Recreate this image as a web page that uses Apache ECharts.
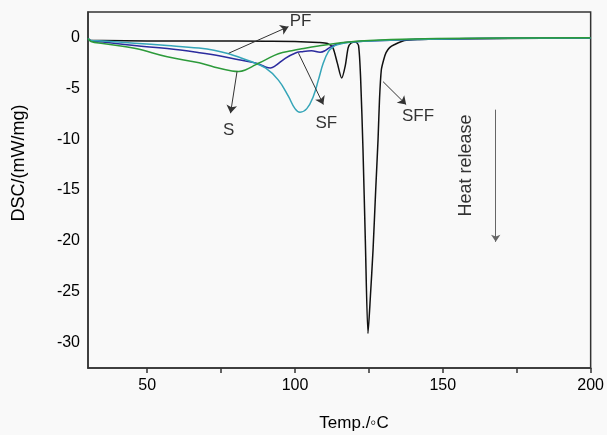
<!DOCTYPE html>
<html><head><meta charset="utf-8">
<script src="https://cdn.jsdelivr.net/npm/echarts@6/dist/echarts.min.js"></script>
<style>html,body{margin:0;padding:0;background:#f9f9f9}#c{width:607px;height:435px}</style>
</head><body><div id="c"></div>
<script>
// Temperature (°C) / DSC (mW/mg) pairs
const sffData = [[30,-0.1],[31,-0.3],[35,-0.3],[50,-0.35],[70,-0.35],[90,-0.38],[100,-0.4],[108,-0.5],[111,-0.6],[112.8,-1.0],[114.3,-2.5],[115.8,-4.0],[117.0,-2.8],[118.0,-1.0],[119,-0.55],[120.5,-0.45],[121.5,-0.8],[122.2,-4],[123,-11],[123.8,-20],[124.7,-29.1],[125.5,-25.5],[126.4,-20.9],[127.3,-15],[128.1,-10],[128.6,-6],[129.2,-3.2],[130,-2.2],[130.8,-1.5],[132,-1.0],[133.7,-0.7],[137,-0.3],[142,-0.2],[150,-0.15],[170,-0.1],[200,-0.05]];
const pfData = [[30,-0.1],[31,-0.3],[35,-0.35],[45.7,-0.57],[56.8,-0.8],[67.5,-1.05],[72.6,-1.25],[77.6,-1.6],[84.4,-2.3],[90,-3.0],[94.4,-4.2],[97.8,-5.8],[100,-7.0],[101.7,-7.35],[104,-7.0],[106.2,-5.8],[107.9,-4.2],[109.6,-2.5],[111.3,-1.4],[113,-0.9],[114.6,-0.7],[118,-0.5],[125,-0.35],[140,-0.2],[160,-0.1],[200,-0.05]];
const sfData = [[30,-0.1],[31,-0.35],[35,-0.45],[45.7,-0.8],[56.8,-1.1],[67.6,-1.5],[74.3,-1.8],[81,-2.2],[86.6,-2.5],[90,-2.9],[91.7,-3.0],[93.3,-2.8],[96.7,-2.05],[100,-1.55],[102.3,-1.4],[105.6,-1.3],[108.5,-1.45],[110.2,-1.3],[111.8,-0.97],[113.5,-0.74],[117,-0.5],[125,-0.35],[140,-0.2],[160,-0.1],[200,-0.05]];
const sData = [[30,-0.1],[31,-0.4],[35,-0.6],[45.7,-1.06],[56.8,-1.9],[67.6,-2.5],[72.6,-2.9],[78.7,-3.3],[81,-3.35],[83.2,-3.2],[86.6,-2.7],[90,-2.2],[94.4,-1.6],[98.9,-1.3],[103.4,-1.06],[107.9,-0.84],[112.4,-0.64],[118,-0.45],[125,-0.3],[140,-0.15],[160,-0.08],[200,-0.03]];

const xTicks = [50,75,100,125,150,175,200];
const xLabels = [50,100,150,200];
const yLabels = [0,-5,-10,-15,-20,-25,-30];

// annotation arrows: [from, to] in data coordinates
const arrows = [
  [[77.6,-1.55],[97.8,1.06]],
  [[80.4,-3.36],[78.2,-7.45]],
  [[101.2,-1.55],[109.6,-6.6]],
  [[129.8,-4.35],[137.6,-6.6]]
];
const heatArrow = [[167.9,-7.1],[167.9,-20.1]];
// annotation texts: [x, y, text]
const notes = [[101.9,1.6,'PF'],[77.6,-9.1,'S'],[110.6,-8.4,'SF'],[141.6,-7.8,'SFF']];
const sideNote = [[157.9,-12.6,'Heat release']];

const font = 'Arial, "Liberation Sans", Helvetica, sans-serif';
const chart = echarts.init(document.getElementById('c'), null, {renderer:'canvas'});
const lineSeries = (name, data, color, sm) => ({
  name, type:'line', data, showSymbol:false, smooth:sm,
  lineStyle:{color, width:1.5}, itemStyle:{color}, animation:false, silent:true, z:3
});
chart.setOption({
  backgroundColor:'#f9f9f9',
  animation:false,
  grid:{left:88, right:14, top:12, bottom:67, show:true, borderColor:'#333', borderWidth:1.5, backgroundColor:'transparent'},
  xAxis:{type:'value', min:30, max:200,
    axisLine:{onZero:false, lineStyle:{color:'#333', width:1.5}},
    axisTick:{show:true, length:5, customValues:xTicks, lineStyle:{color:'#333', width:1.5}},
    axisLabel:{customValues:xLabels, color:'#000', fontSize:16, fontFamily:font, margin:10},
    splitLine:{show:false}},
  yAxis:{type:'value', min:-32.5, max:2.5,
    axisLine:{show:true, onZero:false, lineStyle:{color:'#333', width:1.5}},
    axisTick:{show:false},
    axisLabel:{customValues:yLabels, color:'#000', fontSize:16, fontFamily:font, margin:8},
    splitLine:{show:false}},
  graphic:[
    {type:'text', x:354, y:423, style:{text:'Temp./\u25E6C', font:'17px '+font, fill:'#000', align:'center', verticalAlign:'middle'}},
    {type:'text', x:19, y:163, rotation:Math.PI/2, style:{text:'DSC/(mW/mg)', font:'18px '+font, fill:'#000', align:'center', verticalAlign:'middle'}}
  ],
  series:[
    lineSeries('SFF', sffData, '#111111', 0.25),
    lineSeries('SF', sfData, '#2b2b9e', 0.4),
    lineSeries('PF', pfData, '#35a5b8', 0.4),
    lineSeries('S', sData, '#2c9a3a', 0.4),
    {type:'line', data:[], silent:true, animation:false,
      markLine:{silent:true, animation:false, symbol:['none','arrow'], symbolSize:8,
        lineStyle:{color:'#333', width:1, type:'solid'}, label:{show:false},
        data: arrows.map(a => [{coord:a[0]},{coord:a[1]}])}},
    {type:'line', data:[], silent:true, animation:false,
      markLine:{silent:true, animation:false, symbol:['none','arrow'], symbolSize:7,
        lineStyle:{color:'#666', width:1, type:'solid'}, label:{show:false},
        data: [[{coord:heatArrow[0]},{coord:heatArrow[1]}]]}},
    {type:'scatter', data:notes.map(n=>({value:[n[0],n[1]], name:n[2]})), symbolSize:0, silent:true, animation:false,
      label:{show:true, position:'inside', formatter:p=>p.name, color:'#000', fontSize:17, fontFamily:font}},
    {type:'scatter', data:sideNote.map(n=>({value:[n[0],n[1]], name:n[2]})), symbolSize:0, silent:true, animation:false,
      label:{show:true, position:'inside', rotate:90, formatter:p=>p.name, color:'#000', fontSize:18, fontFamily:font}}
  ]
});
</script></body></html>
